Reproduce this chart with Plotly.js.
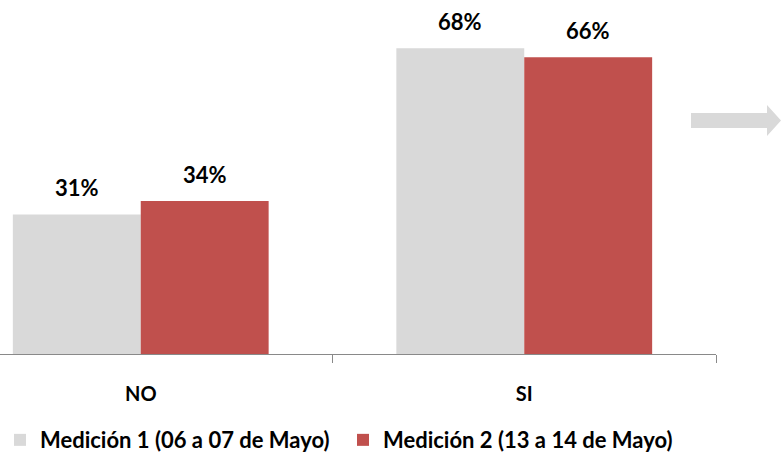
<!DOCTYPE html>
<html><head><meta charset="utf-8">
<script src="https://cdn.plot.ly/plotly-3.0.1.min.js"></script>
<style>html,body{margin:0;padding:0;background:#fff}</style>
</head><body>
<div id="chart" style="width:781px;height:455px"></div>
<script>
var categories = ["NO", "SI"];
var seriesNames = ["Medición 1 (06 a 07 de Mayo)", "Medición 2 (13 a 14 de Mayo)"];
var medicion1 = [31, 68];
var medicion2 = [34, 66];
var colors = ["#D9D9D9", "#C0504D"];
var FONT = "Lato, 'Open Sans', sans-serif";

var series = [medicion1, medicion2];
var traces = series.map(function(vals, i){
  return {type:"bar", name:seriesNames[i], x:categories, y:vals,
    marker:{color:colors[i]}, hoverinfo:"none"};
});

var annotations = [];
series.forEach(function(vals, i){
  vals.forEach(function(v, j){
    annotations.push({x:categories[j], y:v, xref:"x", yref:"y", text:v+"%",
      showarrow:false, xshift:(i===0?-64:64), yshift:27,
      font:{family:FONT, size:22, color:"#000", weight:"bold"}});
  });
});

var layout = {
  width:781, height:455,
  margin:{l:0, r:65, t:0, b:101, autoexpand:false},
  paper_bgcolor:"#fff", plot_bgcolor:"#fff",
  barmode:"group", bargap:0.333, bargroupgap:0,
  showlegend:true,
  legend:{orientation:"h", xref:"container", yref:"container", x:0, y:0.079, xanchor:"left", yanchor:"top",
    font:{family:FONT, size:22, color:"#000", weight:"bold"}, itemwidth:20, tracegroupgap:0,
    entrywidth:298, entrywidthmode:"pixels"},
  xaxis:{type:"category", range:[-0.367, 1.5], showline:true, linecolor:"#898989", linewidth:1,
    ticks:"outside", tickson:"boundaries", ticklen:8, tickcolor:"#898989",
    ticklabelstandoff:22,
    tickfont:{family:FONT, size:20, color:"#000", weight:"bold"}, showgrid:false, fixedrange:true},
  yaxis:{range:[0, 78.7], visible:false, showgrid:false, zeroline:false, fixedrange:true},
  annotations:annotations,
  shapes:[{type:"path", xref:"paper", yref:"paper",
    path:"M "+(691/716)+" "+((354-113)/354)+" L "+(767/716)+" "+((354-113)/354)+
      " L "+(767/716)+" "+((354-105)/354)+" L "+(781/716)+" "+((354-120.5)/354)+
      " L "+(767/716)+" "+((354-136)/354)+" L "+(767/716)+" "+((354-128)/354)+
      " L "+(691/716)+" "+((354-128)/354)+" Z",
    fillcolor:"#D9D9D9", line:{width:0}}]
};
Plotly.newPlot("chart", traces, layout, {displayModeBar:false, staticPlot:true});
</script>
</body></html>
